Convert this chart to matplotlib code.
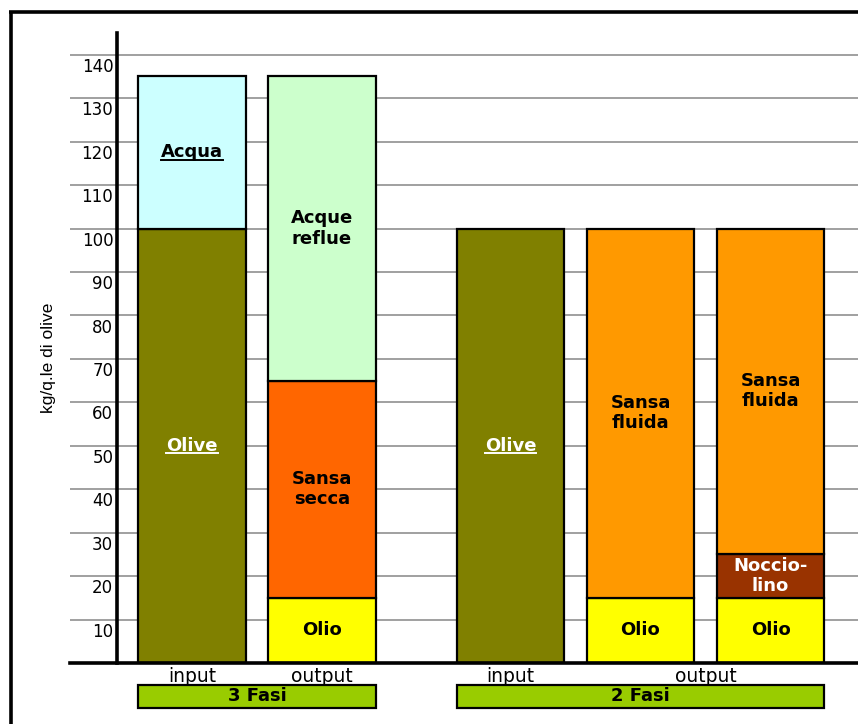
import matplotlib
matplotlib.use("Agg")
import matplotlib.pyplot as plt
import matplotlib.transforms as mtransforms
from matplotlib.patches import Rectangle
from matplotlib.lines import Line2D

# dati (kg per quintale di olive)
bar_x = [0, 1, 2.45, 3.45, 4.45]
bar_lab = ['input', 'output', 'input', 'output', 'output']
olive = [100, 0, 100, 0, 0]
olio = [0, 15, 0, 15, 15]
nocciolino = [0, 0, 0, 0, 10]
sansa_secca = [0, 50, 0, 0, 0]
sansa_fluida = [0, 0, 0, 85, 75]
acqua = [35, 0, 0, 0, 0]
acque_reflue = [0, 70, 0, 0, 0]

y_ticks = [10, 20, 30, 40, 50, 60, 70, 80, 90, 100, 110, 120, 130, 140]
gruppi = ['3 Fasi', '2 Fasi']
gruppi_bar = [(0, 1), (2, 4)]

# (valori, colore, etichetta, colore testo, sottolineato)
serie = [
    (olive, '#808000', 'Olive', 'white', True),
    (olio, '#FFFF00', 'Olio', 'black', False),
    (nocciolino, '#993300', 'Noccio-\nlino', 'white', False),
    (sansa_secca, '#FF6600', 'Sansa\nsecca', 'black', False),
    (sansa_fluida, '#FF9900', 'Sansa\nfluida', 'black', False),
    (acqua, '#CCFFFF', 'Acqua', 'black', True),
    (acque_reflue, '#CCFFCC', 'Acque\nreflue', 'black', False),
]

W = 0.83
fig = plt.figure(figsize=(8.58, 7.24), dpi=100)
ax = fig.add_axes([70/858, 61/724, 788/858, 630/724])
ax.set_xlim(-0.938, 5.123)
ax.set_ylim(0, 145)

for v in y_ticks:
    ax.axhline(v, color='#A0A0A0', lw=1.4, zorder=0)

bottom = [0]*len(bar_x)
under = []
for vals, col, lab, tcol, ul in serie:
    for i, h in enumerate(vals):
        if h == 0:
            continue
        ax.bar(bar_x[i], h, W, bottom=bottom[i], color=col, edgecolor='black',
               linewidth=1.6, zorder=2)
        t = ax.text(bar_x[i], bottom[i] + h/2, lab, ha='center', va='center',
                    color=tcol, fontsize=13, fontweight='bold',
                    family='DejaVu Sans', linespacing=1.15, zorder=3)
        if ul:
            under.append((t, tcol))
        bottom[i] += h

for s in ['top', 'right']:
    ax.spines[s].set_visible(False)
ax.spines['left'].set_position(('data', -0.577))
ax.spines['left'].set_linewidth(2.6)
ax.spines['bottom'].set_linewidth(2.6)
ax.spines['left'].set_zorder(4)
ax.spines['bottom'].set_zorder(4)
ax.set_xticks([])
ax.set_yticks([])

for v in y_ticks:
    ax.text(-0.605, v - 2.8, str(v), ha='right', va='center', fontsize=12,
            family='DejaVu Sans')

tr = mtransforms.blended_transform_factory(ax.transData, ax.transAxes)
for x, lab in zip(bar_x[:3], bar_lab[:3]):
    ax.text(x, -0.021, lab, ha='center', va='center', fontsize=13.5,
            family='DejaVu Sans', transform=tr)
ax.text((bar_x[3] + bar_x[4])/2, -0.021, 'output', ha='center', va='center',
        fontsize=13.5, family='DejaVu Sans', transform=tr)

for g, (a, b) in zip(gruppi, gruppi_bar):
    x0 = bar_x[a] - W/2
    x1 = bar_x[b] + W/2
    ax.add_patch(Rectangle((x0, -0.0714), x1 - x0, 0.0365, transform=tr,
                           facecolor='#99CC00', edgecolor='black', lw=1.6,
                           clip_on=False))
    ax.text((x0 + x1)/2, -0.053, g, ha='center', va='center', fontsize=13,
            fontweight='bold', family='DejaVu Sans', transform=tr)

fig.text(48/858, 1 - 358/724, 'kg/q.le di olive', rotation=90, ha='center',
         va='center', fontsize=12.5, family='Liberation Sans')

# cornice esterna
ytop = 1 - 11.5/724
fig.add_artist(Line2D([9/858, 1], [ytop]*2, color='black', lw=2.6,
                      transform=fig.transFigure, solid_capstyle='butt'))
fig.add_artist(Line2D([10.5/858]*2, [0, ytop], color='black', lw=2.6,
                      transform=fig.transFigure, solid_capstyle='butt'))

# sottolineature
fig.canvas.draw()
r = fig.canvas.get_renderer()
for t, c in under:
    bb = t.get_window_extent(r)
    y = bb.y0 + 1.5
    fig.add_artist(Line2D([bb.x0/858, bb.x1/858], [y/724]*2, color=c, lw=1.4,
                          transform=fig.transFigure, zorder=5))

fig.savefig('out.png', dpi=100)
